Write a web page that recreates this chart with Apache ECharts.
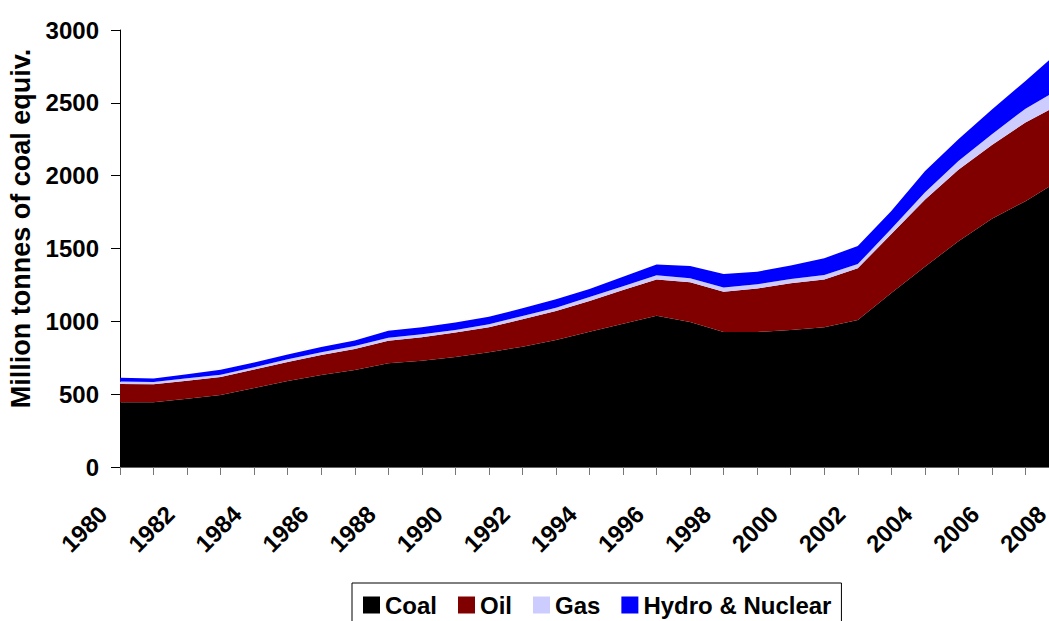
<!DOCTYPE html>
<html>
<head>
<meta charset="utf-8">
<script src="https://cdn.jsdelivr.net/npm/echarts@6/dist/echarts.min.js"></script>
<style>
  html, body { margin: 0; padding: 0; background: #fff; }
  #chart { width: 1049px; height: 621px; }
</style>
</head>
<body>
<div id="chart"></div>
<script>
// years on the x axis
var years = ['1980', '1981', '1982', '1983', '1984', '1985', '1986', '1987', '1988', '1989',
  '1990', '1991', '1992', '1993', '1994', '1995', '1996', '1997', '1998', '1999',
  '2000', '2001', '2002', '2003', '2004', '2005', '2006', '2007', '2008']

// million tonnes of coal equivalent
var coal = [444, 444, 469, 494, 542, 591, 632, 666, 712, 730,
  756, 787, 826, 872, 929, 984, 1039, 995, 927, 927,
  940, 959, 1009, 1195, 1375, 1550, 1705, 1825, 1965]
var oil = [125, 124, 123, 124, 127, 130, 137, 144, 155, 160,
  167, 172, 188, 199, 211, 231, 249, 273, 276, 299,
  321, 329, 355, 405, 460, 490, 505, 540, 522]
var gas = [18, 15, 17, 16, 16, 18, 18, 20, 21, 21,
  17, 21, 23, 23, 27, 25, 28, 27, 30, 28,
  29, 30, 29, 35, 50, 60, 75, 95, 106]
var hydro = [26, 25, 27, 34, 32, 33, 37, 39, 48, 48,
  52, 52, 52, 57, 55, 66, 75, 85, 92, 87,
  94, 115, 124, 123, 145, 150, 170, 190, 260]

var font = 'Liberation Sans, Arial, sans-serif'

var chart = echarts.init(document.getElementById('chart'), null, { renderer: 'svg' })

function area(name, data, color) {
  return {
    name: name,
    type: 'line',
    stack: 'total',
    data: data,
    symbol: 'none',
    smooth: false,
    lineStyle: { width: 0 },
    itemStyle: { color: color },
    areaStyle: { color: color, opacity: 1 },
    animation: false
  }
}

chart.setOption({
  backgroundColor: '#fff',
  grid: {
    left: 120,
    right: -10,
    top: 30,
    bottom: 154,
    containLabel: false,
    outerBoundsMode: 'none'
  },
  legend: {
    data: ['Coal', 'Oil', 'Gas', 'Hydro & Nuclear'],
    left: 352,
    top: 583,
    padding: [10, 10, 10, 11],
    itemGap: 21,
    itemWidth: 17,
    itemHeight: 17,
    icon: 'rect',
    borderColor: '#000',
    borderWidth: 1,
    borderRadius: 0,
    textStyle: {
      fontFamily: font,
      fontSize: 24,
      fontWeight: 'bold',
      color: '#000'
    }
  },
  xAxis: {
    type: 'category',
    data: years,
    boundaryGap: false,
    axisLine: { lineStyle: { color: '#666', width: 1 } },
    axisTick: { alignWithLabel: true, interval: 0, length: 8, lineStyle: { color: '#777' } },
    axisLabel: {
      interval: 1,
      rotate: 45,
      margin: 26,
      padding: [0, 24, 0, 0],
      hideOverlap: false,
      fontFamily: font,
      fontSize: 24,
      fontWeight: 'bold',
      color: '#000'
    },
    splitLine: { show: false }
  },
  yAxis: {
    type: 'value',
    min: 0,
    max: 3000,
    interval: 500,
    name: 'Million tonnes of coal equiv.',
    nameLocation: 'middle',
    nameRotate: 90,
    nameGap: 86,
    nameTextStyle: {
      fontFamily: font,
      fontSize: 27,
      fontWeight: 'bold',
      color: '#000',
      padding: [0, 0, 0, 40]
    },
    axisLine: { show: true, lineStyle: { color: '#000', width: 1 } },
    axisTick: { show: true, length: 9, lineStyle: { color: '#000' } },
    axisLabel: {
      margin: 21,
      formatter: function(v) { return String(v) },
      fontFamily: font,
      fontSize: 24,
      fontWeight: 'bold',
      color: '#000'
    },
    splitLine: { show: false }
  },
  series: [
    area('Coal', coal, '#000000'),
    area('Oil', oil, '#800000'),
    area('Gas', gas, '#ccccff'),
    area('Hydro & Nuclear', hydro, '#0000ff')
  ]
})
</script>
</body>
</html>
